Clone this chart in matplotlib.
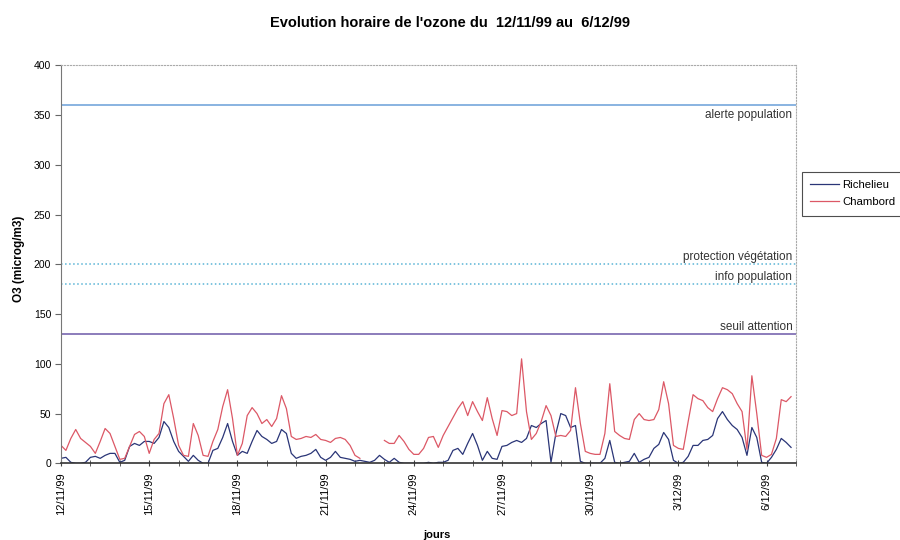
import numpy as np
import pandas as pd
import matplotlib
matplotlib.use("Agg")
import matplotlib.pyplot as plt
import matplotlib.dates as mdates

plt.rcParams['font.family'] = ['Liberation Sans', 'DejaVu Sans']

# hourly ozone, every 4 hours from 12/11/99 00h
start = "1999-11-12 00:00"
richelieu = [5, 6, 1, 0, 0, 1,
             6, 7, 5, 8, 10, 10,
             1, 3, 17, 20, 18, 22,
             22, 20, 26, 42, 36, 22,
             12, 7, 2, 8, 3, 0,
             0, 13, 15, 26, 40, 22,
             8, 12, 10, 22, 33, 27,
             24, 20, 22, 34, 30, 10,
             5, 7, 8, 10, 14, 6,
             3, 6, 12, 6, 5, 4,
             2, 3, 2, 1, 3, 8,
             4, 1, 5, 1, 0, 0,
             0, 0, 0, 1, 0, 1,
             1, 3, 13, 15, 9, 20,
             30, 18, 3, 12, 5, 4,
             17, 18, 21, 23, 21, 25,
             38, 36, 40, 43, 1, 30,
             50, 48, 36, 38, 2, 0,
             0, 0, 0, 5, 23, 1,
             0, 1, 2, 10, 1, 4,
             6, 15, 19, 31, 24, 3,
             0, 1, 7, 18, 18, 23,
             24, 28, 45, 52, 44, 38,
             34, 26, 8, 36, 26, 1,
             0, 6, 14, 25, 21, 16]
chambord = [18, 13, 25, 34, 25, 21,
            17, 10, 22, 35, 30, 17,
            4, 5, 17, 29, 32, 27,
            10, 24, 30, 60, 69, 45,
            18, 8, 7, 40, 28, 8,
            7, 22, 34, 57, 74, 45,
            8, 20, 48, 56, 50, 40,
            44, 37, 45, 68, 55, 27,
            24, 25, 27, 26, 29, 24,
            23, 21, 25, 26, 24, 18,
            8, 5, np.nan, np.nan, np.nan, np.nan,
            23, 20, 20, 28, 22, 14,
            9, 9, 15, 26, 27, 16,
            28, 37, 46, 55, 62, 48,
            62, 52, 43, 66, 45, 28,
            53, 52, 48, 50, 105, 52,
            24, 30, 42, 58, 48, 27,
            28, 27, 33, 76, 40, 12,
            10, 9, 9, 30, 80, 32,
            28, 25, 24, 44, 50, 44,
            43, 44, 54, 82, 60, 18,
            15, 14, 42, 69, 65, 63,
            56, 52, 65, 76, 74, 70,
            60, 52, 14, 88, 50, 8,
            6, 9, 25, 64, 62, 67]

seuils = [360, 200, 180, 130]
seuil_noms = ["alerte population", "protection végétation", "info population", "seuil attention"]
seuil_couleurs = ["#6a9fd8", "#5ab4d6", "#5ab4d6", "#6c58a8"]
seuil_styles = ["-", ":", ":", "-"]

times = pd.date_range(start, periods=len(chambord), freq="4h")
t0 = pd.Timestamp(start)
t1 = pd.Timestamp("1999-12-07 00:00")
day_ticks = pd.date_range(t0, t1, freq="D")
label_ticks = pd.date_range(t0, t1, freq="3D")

fig = plt.figure(figsize=(9, 5.4), dpi=100)
ax = fig.add_axes([0.0678, 0.142, 0.8166, 0.737])

ax.plot(times, richelieu, color="#2a3577", lw=0.9, label="Richelieu")
ax.plot(times, chambord, color="#dc5866", lw=0.9, label="Chambord")

for val, nom, c, ls in zip(seuils, seuil_noms, seuil_couleurs, seuil_styles):
    ax.axhline(val, color=c, lw=1.1, ls=ls)
    if val == 360:
        ax.text(t1 - pd.Timedelta(hours=3), val - 4, nom, ha="right", va="top", fontsize=8.5, color="#333333")
    else:
        ax.text(t1 - pd.Timedelta(hours=3), val + 1, nom, ha="right", va="bottom", fontsize=8.5, color="#333333")

ax.set_xlim(t0, t1)
ax.set_ylim(0, 400)
ax.set_yticks(range(0, 401, 50))
ax.set_xticks(label_ticks)
ax.set_xticks(day_ticks, minor=True)
ax.xaxis.set_major_formatter(mdates.DateFormatter("%-d/%m/%y"))
for lab in ax.get_xticklabels():
    lab.set_rotation(90)
ax.tick_params(axis="x", labelsize=8, direction="inout", length=5, color="#444444", pad=4)
ax.tick_params(axis="x", which="minor", direction="inout", length=5, color="#444444")
ax.tick_params(axis="y", labelsize=7.5, direction="out", length=4, color="#666666", pad=3)

ax.spines["left"].set_color("#777777")
ax.spines["bottom"].set_color("#333333")
ax.spines["bottom"].set_linewidth(1.2)
for s in ["top", "right"]:
    ax.spines[s].set_linestyle(":")
    ax.spines[s].set_color("#aaaaaa")

fig.text(0.5, 0.957, "Evolution horaire de l'ozone du  12/11/99 au  6/12/99",
         ha="center", va="center", fontsize=10.5, fontweight="bold")
fig.text(0.021, 0.52, "O3 (microg/m3)", rotation=90, ha="center", va="center",
         fontsize=8.5, fontweight="bold")
fig.text(0.485, 0.01, "jours", ha="center", va="center", fontsize=8, fontweight="bold")

leg = fig.legend(loc="upper left", bbox_to_anchor=(0.891, 0.682), fontsize=8.2,
                 frameon=True, fancybox=False, edgecolor="#222222", handlelength=2.5,
                 borderpad=0.75, labelspacing=0.6, handletextpad=0.3, borderaxespad=0)
leg.get_frame().set_linewidth(0.8)

fig.savefig("out.png", dpi=100)
